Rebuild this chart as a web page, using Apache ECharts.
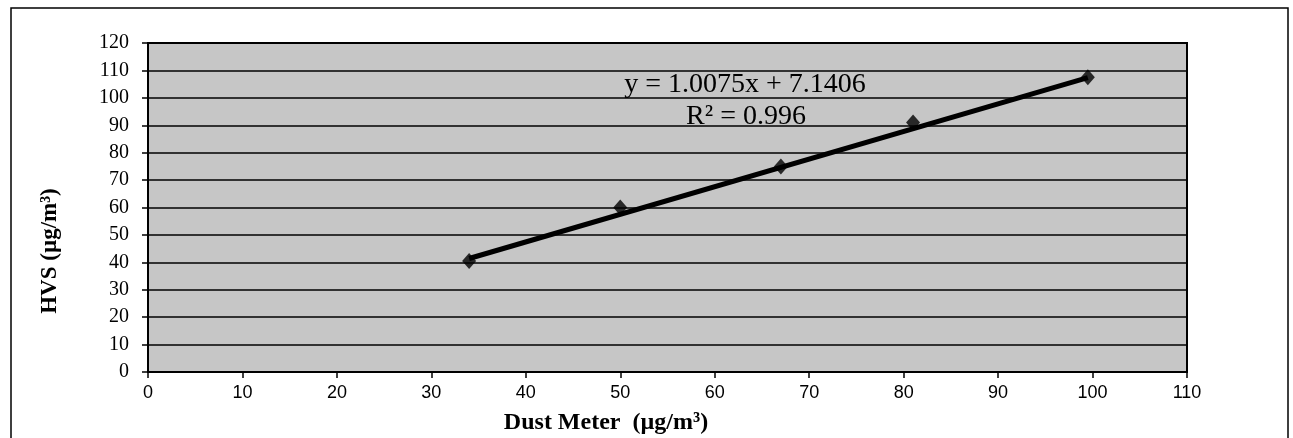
<!DOCTYPE html>
<html>
<head>
<meta charset="utf-8">
<script src="https://cdn.jsdelivr.net/npm/echarts@6/dist/echarts.min.js"></script>
<style>
html,body{margin:0;padding:0;background:#fff;}
#chart{width:1293px;height:438px;}
</style>
</head>
<body>
<div id="chart"></div>
<script>
// Data
var dustMeter = [34, 50, 67, 81, 99.5];
var hvs = [40.5, 60, 75, 91, 107.5];
var slope = 1.0075;
var intercept = 7.1406;
var rSquared = '0.996';
var xTicks = [0, 10, 20, 30, 40, 50, 60, 70, 80, 90, 100, 110];
var yTicks = [0, 10, 20, 30, 40, 50, 60, 70, 80, 90, 100, 110, 120];

var points = dustMeter.map(function (x, i) { return [x, hvs[i]]; });
var xMinData = Math.min.apply(null, dustMeter);
var xMaxData = Math.max.apply(null, dustMeter);
var trend = [
  [xMinData, slope * xMinData + intercept],
  [xMaxData, slope * xMaxData + intercept]
];

var chart = echarts.init(document.getElementById('chart'));
chart.setOption({
  animation: false,
  backgroundColor: '#ffffff',
  grid: {
    left: 148, top: 43, right: 106, bottom: 66,
    show: true,
    backgroundColor: '#c6c6c6',
    borderColor: '#000000',
    borderWidth: 2
  },
  xAxis: {
    type: 'value',
    min: xTicks[0], max: xTicks[xTicks.length - 1], interval: 10,
    axisLine: { show: true, onZero: false, lineStyle: { color: '#000', width: 2 } },
    axisTick: { show: true, inside: false, length: 6, lineStyle: { color: '#000', width: 1.5 } },
    axisLabel: { color: '#000', fontFamily: 'Liberation Sans', fontSize: 18, margin: 12 },
    splitLine: { show: false }
  },
  yAxis: {
    type: 'value',
    min: yTicks[0], max: yTicks[yTicks.length - 1], interval: 10,
    axisLine: { show: true, onZero: false, lineStyle: { color: '#000', width: 2 } },
    axisTick: { show: true, inside: false, length: 6, lineStyle: { color: '#000', width: 1.5 } },
    axisLabel: { color: '#000', fontFamily: 'Liberation Serif', fontSize: 20, margin: 19 },
    splitLine: { show: true, lineStyle: { color: '#000', width: 1.5 } }
  },
  series: [
    {
      type: 'line',
      data: trend,
      symbol: 'none',
      lineStyle: { color: '#000', width: 5 },
      z: 2,
      silent: true
    },
    {
      type: 'scatter',
      data: points,
      symbol: 'diamond',
      symbolSize: [14, 16],
      itemStyle: { color: '#000' },
      z: 3
    }
  ],
  graphic: [
    {
      type: 'rect',
      shape: { x: 11, y: 8, width: 1277, height: 440 },
      style: { fill: 'none', stroke: '#000', lineWidth: 1.5 },
      silent: true, z: -1
    },
    {
      type: 'text',
      x: 745, y: 85,
      style: {
        text: 'y = ' + slope + 'x + ' + intercept,
        fontFamily: 'Liberation Serif', fontSize: 28, fill: '#000',
        align: 'center', verticalAlign: 'middle'
      },
      z: 10
    },
    {
      type: 'text',
      x: 746, y: 117,
      style: {
        text: 'R² = ' + rSquared,
        fontFamily: 'Liberation Serif', fontSize: 28, fill: '#000',
        align: 'center', verticalAlign: 'middle'
      },
      z: 10
    },
    {
      type: 'text',
      x: 606, y: 423,
      style: {
        text: 'Dust Meter  (µg/m³)',
        fontFamily: 'Liberation Serif', fontWeight: 'bold', fontSize: 24, fill: '#000',
        align: 'center', verticalAlign: 'middle'
      }
    },
    {
      type: 'text',
      x: 50, y: 251,
      rotation: Math.PI / 2,
      style: {
        text: 'HVS (µg/m³)',
        fontFamily: 'Liberation Serif', fontWeight: 'bold', fontSize: 23, fill: '#000',
        align: 'center', verticalAlign: 'middle'
      }
    }
  ]
});
</script>
</body>
</html>
